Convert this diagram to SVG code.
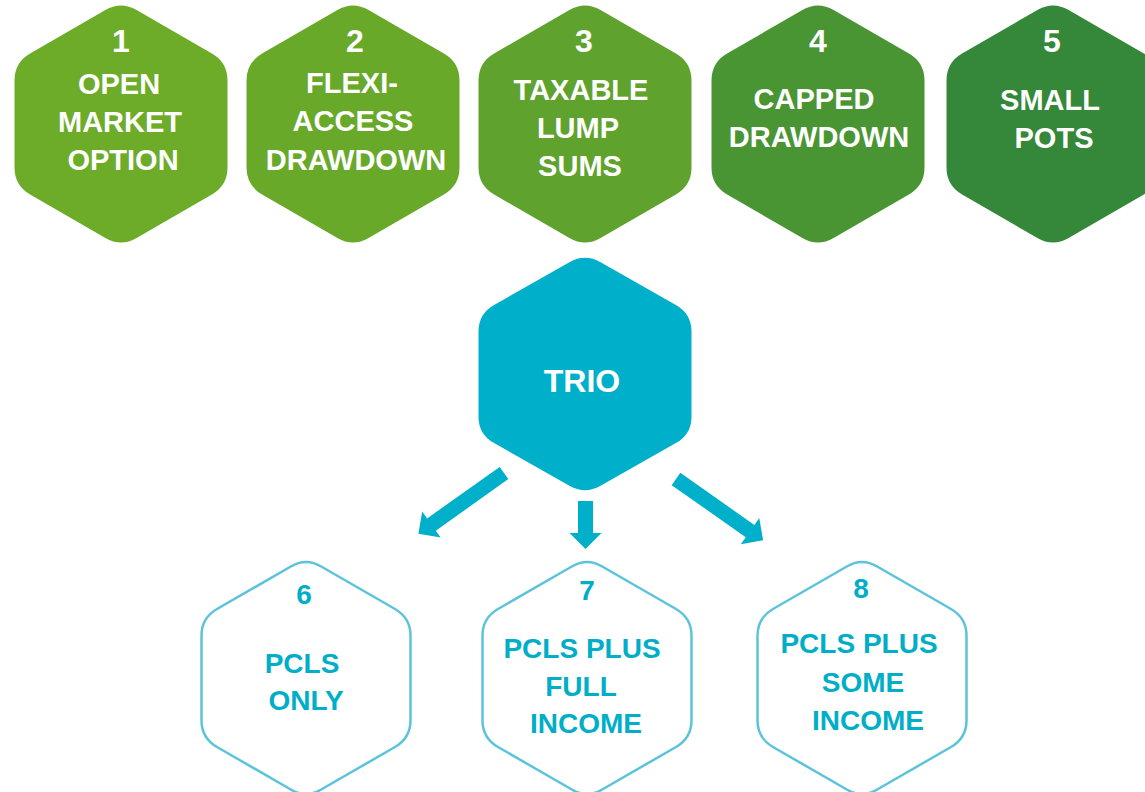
<svg xmlns="http://www.w3.org/2000/svg" xmlns:xlink="http://www.w3.org/1999/xlink" width="1145" height="792" viewBox="0 0 1145 792">
  <defs>
    <!-- pointy-top hexagon with rounded corners, centred on the origin -->
    <path id="hex" d="M15.6,-114 L90.9,-70.5 Q106.5,-61.5 106.5,-43.5 L106.5,43.5 Q106.5,61.5 90.9,70.5 L15.6,114 Q0,123 -15.6,114 L-90.9,70.5 Q-106.5,61.5 -106.5,43.5 L-106.5,-43.5 Q-106.5,-61.5 -90.9,-70.5 L-15.6,-114 Q0,-123 15.6,-114 Z"/>
    <!-- slightly smaller version used for the outlined hexagons -->
    <path id="hexo" d="M15.2,-111.5 L89,-69 Q104.5,-60 104.5,-42.5 L104.5,42.5 Q104.5,60 89,69 L15.2,111.5 Q0,120.5 -15.2,111.5 L-89,69 Q-104.5,60 -104.5,42.5 L-104.5,-42.5 Q-104.5,-60 -89,-69 L-15.2,-111.5 Q0,-120.5 15.2,-111.5 Z"/>
  </defs>
  <style>
    .lbl { font-family: "Liberation Sans", Arial, sans-serif; font-weight: bold; text-anchor: middle; }
    .w { fill: #ffffff; font-size: 29px; }
    .num { font-size: 32px; }
    .t { fill: #00aec8; font-size: 28px; }
    .outline { fill: #ffffff; stroke: #5cc4da; stroke-width: 2.5; }
    .arrow { fill: #00b0cb; }
  </style>
  <rect width="1145" height="792" fill="#ffffff"/>

  <g id="node1">
    <use xlink:href="#hex" transform="translate(121,124)" fill="#6cac28"/>
    <text class="lbl w num" x="121" y="52">1</text>
    <text class="lbl w" x="119" y="94">OPEN</text>
    <text class="lbl w" x="120" y="132">MARKET</text>
    <text class="lbl w" x="123" y="170">OPTION</text>
  </g>
  <g id="node2">
    <use xlink:href="#hex" transform="translate(353,124)" fill="#69a92a"/>
    <text class="lbl w num" x="355" y="52">2</text>
    <text class="lbl w" x="352" y="93">FLEXI-</text>
    <text class="lbl w" x="353" y="131">ACCESS</text>
    <text class="lbl w" x="356" y="170">DRAWDOWN</text>
  </g>
  <g id="node3">
    <use xlink:href="#hex" transform="translate(585,124)" fill="#5fa22d"/>
    <text class="lbl w num" x="584" y="52">3</text>
    <text class="lbl w" x="581" y="100">TAXABLE</text>
    <text class="lbl w" x="578" y="138">LUMP</text>
    <text class="lbl w" x="580" y="176">SUMS</text>
  </g>
  <g id="node4">
    <use xlink:href="#hex" transform="translate(818,124)" fill="#4a9533"/>
    <text class="lbl w num" x="818" y="52">4</text>
    <text class="lbl w" x="814" y="109">CAPPED</text>
    <text class="lbl w" x="819" y="147">DRAWDOWN</text>
  </g>
  <g id="node5">
    <use xlink:href="#hex" transform="translate(1053,124)" fill="#358739"/>
    <text class="lbl w num" x="1052" y="52">5</text>
    <text class="lbl w" x="1050" y="110">SMALL</text>
    <text class="lbl w" x="1054" y="148">POTS</text>
  </g>

  <g id="trio">
    <use xlink:href="#hex" transform="translate(585,374) scale(1,0.98)" fill="#00b0cb"/>
    <text class="lbl w" style="font-size:32px" x="582" y="392">TRIO</text>
  </g>

  <g id="connectors">
    <!-- block arrows: shaft 15 wide, head 32 wide and 16 long -->
    <path class="arrow" transform="translate(504,473) rotate(144.6)" d="M0,-7.5 L89,-7.5 L89,-16 L105,0 L89,16 L89,7.5 L0,7.5 Z"/>
    <path class="arrow" transform="translate(585.5,501) rotate(90)" d="M0,-7.5 L32,-7.5 L32,-16 L48,0 L32,16 L32,7.5 L0,7.5 Z"/>
    <path class="arrow" transform="translate(676,479) rotate(35.1)" d="M0,-7.5 L90.5,-7.5 L90.5,-16 L106.5,0 L90.5,16 L90.5,7.5 L0,7.5 Z"/>
  </g>

  <g id="node6">
    <use xlink:href="#hexo" class="outline" transform="translate(306,678)"/>
    <text class="lbl t num" x="304" y="604">6</text>
    <text class="lbl t" x="302" y="673">PCLS</text>
    <text class="lbl t" x="306" y="710">ONLY</text>
  </g>
  <g id="node7">
    <use xlink:href="#hexo" class="outline" transform="translate(587,678)"/>
    <text class="lbl t num" x="587" y="600">7</text>
    <text class="lbl t" x="582" y="658">PCLS PLUS</text>
    <text class="lbl t" x="581" y="696">FULL</text>
    <text class="lbl t" x="586" y="733">INCOME</text>
  </g>
  <g id="node8">
    <use xlink:href="#hexo" class="outline" transform="translate(862,678)"/>
    <text class="lbl t num" x="861" y="598">8</text>
    <text class="lbl t" x="859" y="653">PCLS PLUS</text>
    <text class="lbl t" x="863" y="692">SOME</text>
    <text class="lbl t" x="868" y="730">INCOME</text>
  </g>
</svg>
